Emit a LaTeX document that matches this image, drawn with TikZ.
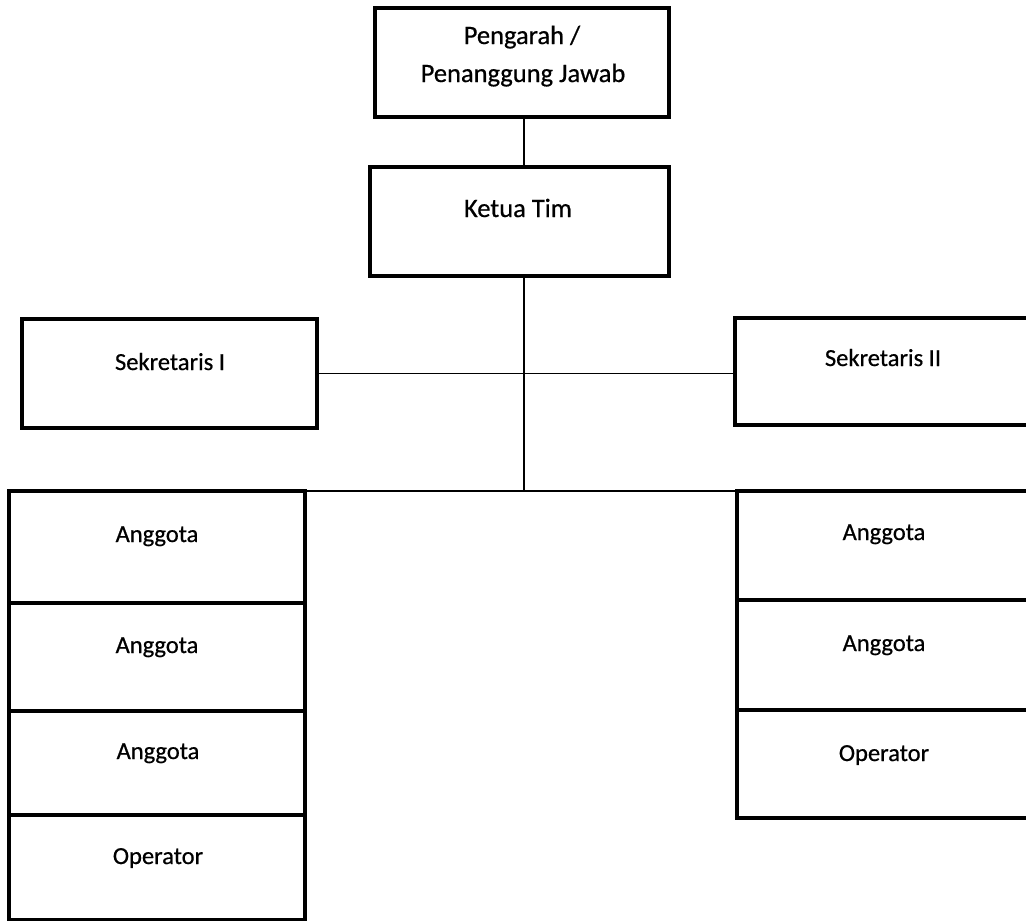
\documentclass[tikz,border=0pt]{standalone}
\usepackage{fontspec}
\setmainfont{Carlito}
\newfontfamily\heavyfont[FakeBold=0.6]{Carlito}
\begin{document}
\begin{tikzpicture}[x=1pt,y=-1pt,
  box/.style={draw=black, line width=3.6pt, outer sep=0pt, inner sep=0pt},
  lbl/.style={anchor=base, inner sep=0pt, font=\heavyfont\fontsize{24.5}{29}\selectfont},
  biglbl/.style={lbl, font=\heavyfont\fontsize{26.5}{32}\selectfont},
  conn/.style={draw=black, line width=1.5pt}]
\useasboundingbox (0,0) rectangle (1026,921);
\clip (0,0) rectangle (1026,921);
\fill[white] (0,0) rectangle (1026,921);
% boxes
\node[box, minimum width=294, minimum height=109] (pj) at (522,62.5) {};
\node[box, minimum width=299, minimum height=109] (kt) at (519.5,221.5) {};
\node[box, minimum width=295, minimum height=109] (s1) at (169.5,373.5) {};
\node[box, minimum width=295, minimum height=107] (s2) at (882.5,371.5) {};
\node[box, minimum width=296, minimum height=112] (a1) at (157,547) {};
\node[box, minimum width=296, minimum height=108] (a2) at (157,657) {};
\node[box, minimum width=296, minimum height=104] (a3) at (157,763) {};
\node[box, minimum width=296, minimum height=105] (op1) at (157,867.5) {};
\node[box, minimum width=293, minimum height=109] (b1) at (883.5,545.5) {};
\node[box, minimum width=293, minimum height=110] (b2) at (883.5,655) {};
\node[box, minimum width=293, minimum height=108] (op2) at (883.5,764) {};
% labels
\node[biglbl] (tpj1) at (522,44) {Pengarah /};
\node[biglbl] (tpj2) at (523,82) {Penanggung Jawab};
\node[biglbl] (tkt) at (518,217) {Ketua Tim};
\node[lbl] (ts1) at (170,370) {Sekretaris I};
\node[lbl] (ts2) at (883,366) {Sekretaris II};
\node[lbl] (ta1) at (157,542) {Anggota};
\node[lbl] (ta2) at (157,653) {Anggota};
\node[lbl] (ta3) at (158,759) {Anggota};
\node[lbl] (top1) at (158,864) {Operator};
\node[lbl] (tb1) at (884,540) {Anggota};
\node[lbl] (tb2) at (884,651) {Anggota};
\node[lbl] (top2) at (884,761) {Operator};
% connectors
\coordinate (spine) at (524,491);
\draw[conn] (pj.south -| spine) -- (kt.north -| spine);
\draw[conn] (kt.south -| spine) -- (spine);
\draw[conn] (s1.east) -- (s2.west |- s1.east);
\draw[conn] (a1.north east) -- (b1.north west);
\end{tikzpicture}
\end{document}
